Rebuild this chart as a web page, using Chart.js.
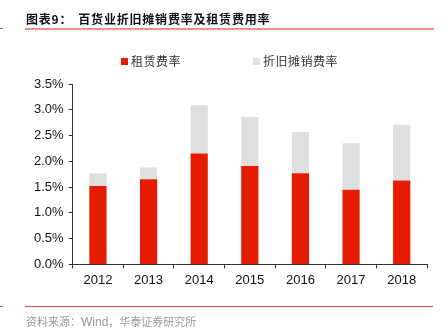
<!DOCTYPE html>
<html>
<head>
<meta charset="utf-8">
<script src="https://cdn.jsdelivr.net/npm/chart.js@4/dist/chart.umd.min.js"></script>
<style>
  html, body { margin: 0; padding: 0; background: #fff; }
  #wrap { position: relative; width: 446px; height: 335px; overflow: hidden; }
  #c { position: absolute; left: 0; top: 0; }
  .title { position: absolute; left: 26px; top: 10px; font: bold 12px "Noto Sans CJK SC", sans-serif; color: #111; white-space: nowrap; letter-spacing: 0.8px; }
  .title span { margin-left: 6px; }
  .line-top { position: absolute; left: 25px; top: 28px; width: 409px; height: 2px; background: #f39085; }
  .line-bot { position: absolute; left: 25px; top: 306px; width: 408px; height: 1px; background: #e4473a; }
  .tick-l { position: absolute; left: 0; width: 3px; height: 1px; background: #e4473a; }
  .source { position: absolute; left: 26px; top: 313px; font: 11px "Noto Sans CJK SC", sans-serif; color: #999; white-space: nowrap; }
  .source .w { font-family: "Liberation Sans", Arial, sans-serif; font-size: 12px; }
  #legend { position: absolute; top: 52px; left: 121px; font: 12px "Noto Sans CJK SC", sans-serif; color: #333; letter-spacing: 0.5px; white-space: nowrap; }
  #legend .item { position: absolute; top: 0; }
  #legend .box { display: inline-block; width: 7px; height: 7px; margin-right: 3px; vertical-align: 1px; }
</style>
</head>
<body>
<div id="wrap">
  <canvas id="c" width="446" height="335"></canvas>
  <div class="title">图表9：<span>百货业折旧摊销费率及租赁费用率</span></div>
  <div class="tick-l" style="top:28px"></div>
  <div class="line-top"></div>
  <div id="legend"></div>
  <div class="tick-l" style="top:306px"></div>
  <div class="line-bot"></div>
  <div class="source">资料来源：<span class="w">Wind</span>，华泰证券研究所</div>
</div>
<script>
// 年份
var years = ["2012", "2013", "2014", "2015", "2016", "2017", "2018"];
// 租赁费率 (%)
var rentRate = [1.52, 1.65, 2.15, 1.91, 1.77, 1.45, 1.63];
// 折旧摊销费率 (%)
var deprRate = [0.25, 0.23, 0.94, 0.95, 0.80, 0.90, 1.08];
var seriesNames = ["租赁费率", "折旧摊销费率"];
var seriesColors = ["#e61c02", "#dfdfdf"];

var chart = new Chart(document.getElementById("c"), {
    type: "bar",
    data: {
        labels: years,
        datasets: [
            { label: seriesNames[0], data: rentRate, backgroundColor: seriesColors[0] },
            { label: seriesNames[1], data: deprRate, backgroundColor: seriesColors[1] }
        ]
    },
    options: {
        responsive: false,
        animation: false,
        events: [],
        layout: { padding: { left: 29, right: 19, top: 84, bottom: 43 } },
        plugins: { legend: { display: false }, tooltip: { enabled: false } },
        datasets: { bar: { categoryPercentage: 1, barPercentage: 0.34 } },
        scales: {
            x: {
                stacked: true,
                grid: { display: true, drawOnChartArea: false, drawTicks: true, tickLength: 4, color: "#333", offset: true },
                border: { display: true, color: "#333", width: 1 },
                ticks: { color: "#111", padding: 4, font: { family: "Liberation Sans", size: 13 } }
            },
            y: {
                stacked: true,
                min: 0,
                max: 3.5,
                grid: { display: true, drawOnChartArea: false, drawTicks: true, tickLength: 4, color: "#333" },
                border: { display: true, color: "#333", width: 1 },
                ticks: {
                    stepSize: 0.5,
                    color: "#111",
                    padding: 5,
                    font: { family: "Liberation Sans", size: 13 },
                    callback: function (v) { return v.toFixed(1) + "%"; }
                }
            }
        }
    }
});

// legend from the datasets
var lg = document.getElementById("legend");
var offsets = [0, 132];
chart.data.datasets.forEach(function (ds, i) {
    var it = document.createElement("div");
    it.className = "item";
    it.style.left = offsets[i] + "px";
    it.innerHTML = '<span class="box" style="background:' + ds.backgroundColor + '"></span>' + ds.label;
    lg.appendChild(it);
});
</script>
</body>
</html>
